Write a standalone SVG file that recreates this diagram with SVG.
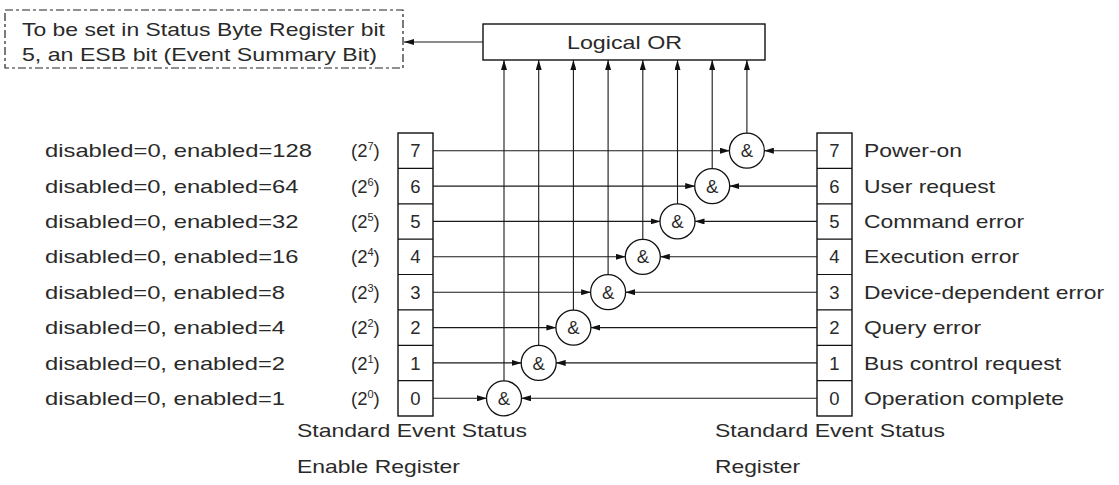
<svg xmlns="http://www.w3.org/2000/svg" width="1119" height="485" viewBox="0 0 1119 485">
<defs>
<marker id="ah" viewBox="0 0 10 6" refX="10" refY="3" markerWidth="10" markerHeight="6" markerUnits="userSpaceOnUse" orient="auto">
<path d="M0,0 L10,3 L0,6 Z" fill="#111"/>
</marker>
<style>
text{font-family:"Liberation Sans",Arial,sans-serif;font-size:18.5px;fill:#2a2a2a}
.c{text-anchor:middle}
.box{fill:#fff;stroke:#111;stroke-width:1.4}
.ln{fill:none;stroke:#1a1a1a;stroke-width:1.1;marker-end:url(#ah)}
.gate{fill:#fff;stroke:#111;stroke-width:1.3}
.sup{font-size:11px}
</style>
</defs>
<rect width="1119" height="485" fill="#fff"/>

<g id="esb-note">
<rect x="5" y="10" width="398" height="58" fill="none" stroke="#222" stroke-width="1.2" stroke-dasharray="8 3 3 3"/>
<text x="22" y="36" textLength="363" lengthAdjust="spacingAndGlyphs">To be set in Status Byte Register bit</text>
<text x="22" y="61" textLength="355" lengthAdjust="spacingAndGlyphs">5, an ESB bit (Event Summary Bit)</text>
</g>

<g id="logical-or">
<rect class="box" x="483" y="24" width="282" height="36"/>
<text x="567" y="49" textLength="115" lengthAdjust="spacingAndGlyphs">Logical OR</text>
</g>

<g id="enable-register">
<rect class="box" x="398" y="133" width="35" height="283"/>
<path d="M398,168.4H433M398,203.8H433M398,239.1H433M398,274.5H433M398,309.9H433M398,345.3H433M398,380.6H433" stroke="#111" stroke-width="1.2"/>
<text class="c" x="415.5" y="157.3">7</text>
<text class="c" x="415.5" y="192.7">6</text>
<text class="c" x="415.5" y="228">5</text>
<text class="c" x="415.5" y="263.4">4</text>
<text class="c" x="415.5" y="298.8">3</text>
<text class="c" x="415.5" y="334.2">2</text>
<text class="c" x="415.5" y="369.5">1</text>
<text class="c" x="415.5" y="404.9">0</text>
<text x="297" y="437" textLength="230" lengthAdjust="spacingAndGlyphs">Standard Event Status</text>
<text x="297" y="473" textLength="163" lengthAdjust="spacingAndGlyphs">Enable Register</text>
</g>

<g id="enable-labels">
<text x="45" y="157.3" textLength="267" lengthAdjust="spacingAndGlyphs">disabled=0, enabled=128</text>
<text x="45" y="192.7" textLength="253.5" lengthAdjust="spacingAndGlyphs">disabled=0, enabled=64</text>
<text x="45" y="228" textLength="253.5" lengthAdjust="spacingAndGlyphs">disabled=0, enabled=32</text>
<text x="45" y="263.4" textLength="253.5" lengthAdjust="spacingAndGlyphs">disabled=0, enabled=16</text>
<text x="45" y="298.8" textLength="240" lengthAdjust="spacingAndGlyphs">disabled=0, enabled=8</text>
<text x="45" y="334.2" textLength="240" lengthAdjust="spacingAndGlyphs">disabled=0, enabled=4</text>
<text x="45" y="369.5" textLength="240" lengthAdjust="spacingAndGlyphs">disabled=0, enabled=2</text>
<text x="45" y="404.9" textLength="240" lengthAdjust="spacingAndGlyphs">disabled=0, enabled=1</text>
<text x="351" y="157.3">(2<tspan class="sup" dy="-7">7</tspan><tspan dy="7">)</tspan></text>
<text x="351" y="192.7">(2<tspan class="sup" dy="-7">6</tspan><tspan dy="7">)</tspan></text>
<text x="351" y="228">(2<tspan class="sup" dy="-7">5</tspan><tspan dy="7">)</tspan></text>
<text x="351" y="263.4">(2<tspan class="sup" dy="-7">4</tspan><tspan dy="7">)</tspan></text>
<text x="351" y="298.8">(2<tspan class="sup" dy="-7">3</tspan><tspan dy="7">)</tspan></text>
<text x="351" y="334.2">(2<tspan class="sup" dy="-7">2</tspan><tspan dy="7">)</tspan></text>
<text x="351" y="369.5">(2<tspan class="sup" dy="-7">1</tspan><tspan dy="7">)</tspan></text>
<text x="351" y="404.9">(2<tspan class="sup" dy="-7">0</tspan><tspan dy="7">)</tspan></text>
</g>

<g id="status-register">
<rect class="box" x="817" y="133" width="35" height="283"/>
<path d="M817,168.4H852M817,203.8H852M817,239.1H852M817,274.5H852M817,309.9H852M817,345.3H852M817,380.6H852" stroke="#111" stroke-width="1.2"/>
<text class="c" x="834.5" y="157.3">7</text>
<text class="c" x="834.5" y="192.7">6</text>
<text class="c" x="834.5" y="228">5</text>
<text class="c" x="834.5" y="263.4">4</text>
<text class="c" x="834.5" y="298.8">3</text>
<text class="c" x="834.5" y="334.2">2</text>
<text class="c" x="834.5" y="369.5">1</text>
<text class="c" x="834.5" y="404.9">0</text>
<text x="715" y="437" textLength="230" lengthAdjust="spacingAndGlyphs">Standard Event Status</text>
<text x="715" y="473" textLength="85" lengthAdjust="spacingAndGlyphs">Register</text>
</g>

<g id="status-labels">
<text x="864" y="157.3" textLength="98" lengthAdjust="spacingAndGlyphs">Power-on</text>
<text x="864" y="192.7" textLength="131" lengthAdjust="spacingAndGlyphs">User request</text>
<text x="864" y="228" textLength="160" lengthAdjust="spacingAndGlyphs">Command error</text>
<text x="864" y="263.4" textLength="155" lengthAdjust="spacingAndGlyphs">Execution error</text>
<text x="864" y="298.8" textLength="240" lengthAdjust="spacingAndGlyphs">Device-dependent error</text>
<text x="864" y="334.2" textLength="117" lengthAdjust="spacingAndGlyphs">Query error</text>
<text x="864" y="369.5" textLength="197" lengthAdjust="spacingAndGlyphs">Bus control request</text>
<text x="864" y="404.9" textLength="200" lengthAdjust="spacingAndGlyphs">Operation complete</text>
</g>

<g id="connectors">
<line class="ln" x1="483" y1="42" x2="404" y2="42"/>
<line class="ln" x1="504" y1="381.3" x2="504" y2="60"/>
<line class="ln" x1="538.7" y1="345.9" x2="538.7" y2="60"/>
<line class="ln" x1="573.4" y1="310.6" x2="573.4" y2="60"/>
<line class="ln" x1="608.1" y1="275.2" x2="608.1" y2="60"/>
<line class="ln" x1="642.8" y1="239.8" x2="642.8" y2="60"/>
<line class="ln" x1="677.5" y1="204.4" x2="677.5" y2="60"/>
<line class="ln" x1="712.2" y1="169.1" x2="712.2" y2="60"/>
<line class="ln" x1="746.9" y1="133.7" x2="746.9" y2="60"/>
<line class="ln" x1="433" y1="150.7" x2="729.9" y2="150.7"/>
<line class="ln" x1="433" y1="186.1" x2="695.2" y2="186.1"/>
<line class="ln" x1="433" y1="221.4" x2="660.5" y2="221.4"/>
<line class="ln" x1="433" y1="256.8" x2="625.8" y2="256.8"/>
<line class="ln" x1="433" y1="292.2" x2="591.1" y2="292.2"/>
<line class="ln" x1="433" y1="327.6" x2="556.4" y2="327.6"/>
<line class="ln" x1="433" y1="362.9" x2="521.7" y2="362.9"/>
<line class="ln" x1="433" y1="398.3" x2="487" y2="398.3"/>
<line class="ln" x1="817" y1="150.7" x2="763.9" y2="150.7"/>
<line class="ln" x1="817" y1="186.1" x2="729.2" y2="186.1"/>
<line class="ln" x1="817" y1="221.4" x2="694.5" y2="221.4"/>
<line class="ln" x1="817" y1="256.8" x2="659.8" y2="256.8"/>
<line class="ln" x1="817" y1="292.2" x2="625.1" y2="292.2"/>
<line class="ln" x1="817" y1="327.6" x2="590.4" y2="327.6"/>
<line class="ln" x1="817" y1="362.9" x2="555.7" y2="362.9"/>
<line class="ln" x1="817" y1="398.3" x2="521" y2="398.3"/>
</g>

<g id="and-7"><circle class="gate" cx="746.9" cy="150.7" r="17.5"/><text class="c" x="746.9" y="157.3">&amp;</text></g>
<g id="and-6"><circle class="gate" cx="712.2" cy="186.1" r="17.5"/><text class="c" x="712.2" y="192.7">&amp;</text></g>
<g id="and-5"><circle class="gate" cx="677.5" cy="221.4" r="17.5"/><text class="c" x="677.5" y="228">&amp;</text></g>
<g id="and-4"><circle class="gate" cx="642.8" cy="256.8" r="17.5"/><text class="c" x="642.8" y="263.4">&amp;</text></g>
<g id="and-3"><circle class="gate" cx="608.1" cy="292.2" r="17.5"/><text class="c" x="608.1" y="298.8">&amp;</text></g>
<g id="and-2"><circle class="gate" cx="573.4" cy="327.6" r="17.5"/><text class="c" x="573.4" y="334.2">&amp;</text></g>
<g id="and-1"><circle class="gate" cx="538.7" cy="362.9" r="17.5"/><text class="c" x="538.7" y="369.5">&amp;</text></g>
<g id="and-0"><circle class="gate" cx="504" cy="398.3" r="17.5"/><text class="c" x="504" y="404.9">&amp;</text></g>
</svg>
